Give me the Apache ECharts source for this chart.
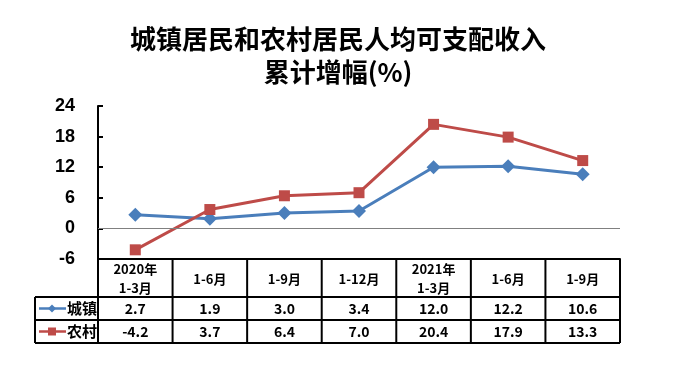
<!DOCTYPE html>
<html><head><meta charset="utf-8">
<script src="https://cdn.jsdelivr.net/npm/echarts@6/dist/echarts.min.js"></script>
<style>html,body{margin:0;padding:0;background:#fff;}#c{width:676px;height:384px;}</style>
</head><body><div id="c"></div>
<script>
var categories = ['2020年\n1-3月', '1-6月', '1-9月', '1-12月', '2021年\n1-3月', '1-6月', '1-9月'];
var urban = [2.7, 1.9, 3.0, 3.4, 12.0, 12.2, 10.6];
var rural = [-4.2, 3.7, 6.4, 7.0, 20.4, 17.9, 13.3];
var urbanText = ['2.7', '1.9', '3.0', '3.4', '12.0', '12.2', '10.6'];
var ruralText = ['-4.2', '3.7', '6.4', '7.0', '20.4', '17.9', '13.3'];
var seriesNames = ['城镇', '农村'];
var yTicks = [-6, 0, 6, 12, 18, 24];

var BLUE = '#4A7EBB', RED = '#BE4B48';
var CJK = '"Noto Sans CJK SC", sans-serif';
var chart = echarts.init(document.getElementById('c'), null, {renderer: 'canvas'});
var option = {
  animation: false,
  backgroundColor: '#fff',
  title: [
    {text: '城镇居民和农村居民人均可支配收入', left: 'center', top: 21,
     textStyle: {fontFamily: CJK, fontWeight: 'bold', fontSize: 26, color: '#000'}},
    {text: '累计增幅(%)', left: 'center', top: 54,
     textStyle: {fontFamily: CJK, fontWeight: 'bold', fontSize: 26, color: '#000'}}
  ],
  grid: {left: 98, right: 56, top: 106, bottom: 125},
  xAxis: {
    type: 'category', data: categories, boundaryGap: true,
    axisLine: {show: true, onZero: false, lineStyle: {color: '#000', width: 2}},
    axisTick: {show: false},
    axisLabel: {show: false}
  },
  yAxis: {
    type: 'value', min: yTicks[0], max: yTicks[yTicks.length - 1], interval: 6,
    axisLine: {show: true, lineStyle: {color: '#000', width: 2}},
    axisTick: {show: true, inside: true, length: 5, lineStyle: {color: '#000', width: 2}},
    splitLine: {show: false},
    axisLabel: {margin: 23, fontFamily: 'Arial, "Liberation Sans", sans-serif', fontWeight: 'bold', fontSize: 18, color: '#000'}
  },
  series: [
    {name: seriesNames[0], type: 'line', data: urban, symbol: 'diamond', symbolSize: 14,
     lineStyle: {color: BLUE, width: 3}, itemStyle: {color: BLUE}, z: 3,
     markLine: {silent: true, symbol: 'none', label: {show: false},
       lineStyle: {color: '#808080', width: 1, type: 'solid'}, data: [{yAxis: 0}]}},
    {name: seriesNames[1], type: 'line', data: rural, symbol: 'rect', symbolSize: 11,
     lineStyle: {color: RED, width: 3}, itemStyle: {color: RED}, z: 4}
  ]
};
chart.setOption(option);

function buildTable() {
  var n = categories.length;
  var centers = [];
  for (var i = 0; i < n; i++) centers.push(chart.convertToPixel({xAxisIndex: 0}, i));
  var band = centers[1] - centers[0];
  var left = centers[0] - band / 2, right = centers[n - 1] + band / 2;
  var top = chart.convertToPixel({yAxisIndex: 0}, yTicks[0]);
  var headerH = 38, rowH = 23;
  var r1 = top + headerH, r2 = r1 + rowH, r3 = r2 + rowH;
  var labelLeft = 35;
  var lw = 2;
  var g = [];
  function line(x1, y1, x2, y2) {
    g.push({type: 'line', shape: {x1: x1, y1: y1, x2: x2, y2: y2}, style: {stroke: '#000', lineWidth: lw}, z: 10});
  }
  line(labelLeft, r1, right, r1);
  line(labelLeft, r2, right, r2);
  line(labelLeft, r3, right, r3);
  line(labelLeft, r1, labelLeft, r3);
  for (var k = 0; k <= n; k++) {
    var x = left + k * band;
    line(x, top, x, r3);
  }
  for (var i = 0; i < n; i++) {
    g.push({type: 'text', x: centers[i], y: top + headerH / 2 + 1, z: 11,
      style: {text: categories[i], fill: '#000', font: 'bold 13px ' + CJK, lineHeight: 19,
        textAlign: 'center', textVerticalAlign: 'middle'}});
  }
  var rows = [urbanText, ruralText];
  var colors = [BLUE, RED];
  for (var r = 0; r < 2; r++) {
    var cy = r1 + rowH * r + rowH / 2;
    for (var i = 0; i < n; i++) {
      g.push({type: 'text', x: centers[i], y: cy, z: 11,
        style: {text: rows[r][i], fill: '#000', font: 'bold 14px ' + CJK, textAlign: 'center', textVerticalAlign: 'middle'}});
    }
    g.push({type: 'line', shape: {x1: 39, y1: cy, x2: 66, y2: cy}, style: {stroke: colors[r], lineWidth: 2.5}, z: 11});
    if (r === 0) {
      g.push({type: 'polygon', shape: {points: [[52, cy - 4], [56, cy], [52, cy + 4], [48, cy]]}, style: {fill: colors[r]}, z: 12});
    } else {
      g.push({type: 'rect', shape: {x: 48, y: cy - 4, width: 8, height: 8}, style: {fill: colors[r]}, z: 12});
    }
    g.push({type: 'text', x: 67, y: cy, z: 11,
      style: {text: seriesNames[r], fill: '#000', font: 'bold 15px ' + CJK, textAlign: 'left', textVerticalAlign: 'middle'}});
  }
  chart.setOption({graphic: g});
}
buildTable();
</script>
</body></html>
